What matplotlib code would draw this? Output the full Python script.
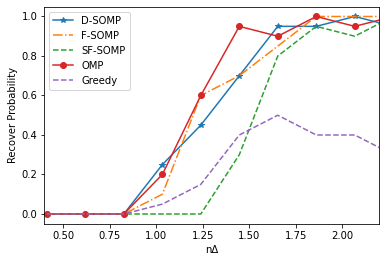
import matplotlib
matplotlib.use("Agg")
import matplotlib.pyplot as plt
import numpy as np

x = [0.4135, 0.6202, 0.8269, 1.0337, 1.2404, 1.4471, 1.6538, 1.8606, 2.0673, 2.2740]
d_somp = [0, 0, 0, 0.25, 0.45, 0.70, 0.95, 0.95, 1.00, 0.95]
f_somp = [0, 0, 0, 0.10, 0.60, 0.70, 0.85, 1.00, 1.00, 1.00]
sf_somp = [0, 0, 0, 0.00, 0.00, 0.30, 0.80, 0.95, 0.90, 1.00]
omp = [0, 0, 0, 0.20, 0.60, 0.95, 0.90, 1.00, 0.95, 1.00]
greedy = [0, 0, 0, 0.05, 0.15, 0.40, 0.50, 0.40, 0.40, 0.30]

fig = plt.figure(figsize=(386/72, 264/72), dpi=72)
ax = fig.add_axes([0.115, 0.152, 0.868, 0.823])
ax.plot(x, d_somp, '-', marker='*', color='tab:blue', label='D-SOMP')
ax.plot(x, f_somp, '-.', color='tab:orange', label='F-SOMP')
ax.plot(x, sf_somp, '--', color='tab:green', label='SF-SOMP')
ax.plot(x, omp, '-', marker='o', color='tab:red', label='OMP')
ax.plot(x, greedy, '--', color='tab:purple', label='Greedy')
ax.set_xlim(0.4, 2.2)
ax.set_ylim(-0.05, 1.05)
ax.set_xlabel('nΔ')
ax.set_ylabel('Recover Probability')
ax.legend(loc='upper left')
fig.savefig('out.png', dpi=72)
